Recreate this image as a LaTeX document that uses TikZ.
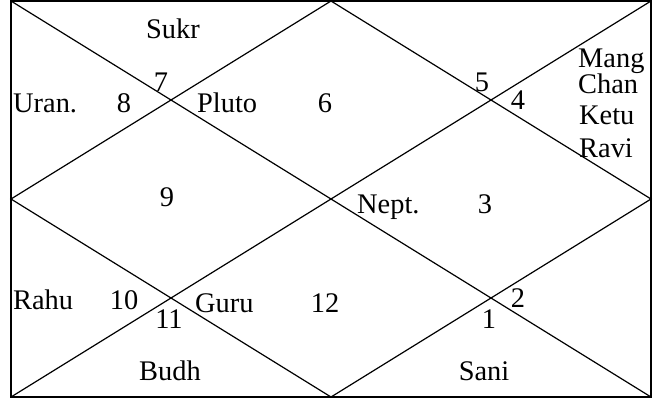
\documentclass[tikz,border=0pt]{standalone}
\usepackage{fontspec}
\setmainfont{Liberation Serif}
\begin{document}
\begin{tikzpicture}[x=1bp,y=-1bp,
  chartline/.style={line width=1.2bp, black},
  lbl/.style={font=\fontsize{28.5}{31}\selectfont, inner sep=0pt, anchor=base},
  lbll/.style={lbl, anchor=base west}]
\useasboundingbox (0,0) rectangle (658,399);
\coordinate (tl) at (11,1);
\coordinate (tr) at (651,1);
\coordinate (br) at (651,397);
\coordinate (bl) at (11,397);
\coordinate (mt) at (331,1);
\coordinate (mr) at (651,199);
\coordinate (mb) at (331,397);
\coordinate (ml) at (11,199);
\draw[chartline] (tl) -- (tr) -- (br) -- (bl) -- cycle;
\draw[chartline] (tl) -- (br);
\draw[chartline] (tr) -- (bl);
\draw[chartline] (mt) -- (mr) -- (mb) -- (ml) -- cycle;
% labels
\node[lbl] (sukr) at (173,38) {Sukr};
\node[lbl] (h7) at (161,91) {7};
\node[lbll] (uran) at (13,112) {Uran.};
\node[lbl] (h8) at (124,112) {8};
\node[lbll] (pluto) at (197,112) {Pluto};
\node[lbl] (h6) at (325,112) {6};
\node[lbl] (h5) at (482,91) {5};
\node[lbl] (h4) at (518,109) {4};
\node[lbll] (mang) at (578,67) {Mang};
\node[lbll] (chan) at (578,93) {Chan};
\node[lbll] (ketu) at (579,124) {Ketu};
\node[lbll] (ravi) at (579,157) {Ravi};
\node[lbl] (h9) at (167,206) {9};
\node[lbll] (nept) at (357,213) {Nept.};
\node[lbl] (h3) at (485,213) {3};
\node[lbll] (rahu) at (13,309) {Rahu};
\node[lbl] (h10) at (124,309) {10};
\node[lbl] (h11) at (169,328) {11};
\node[lbll] (guru) at (195,312) {Guru};
\node[lbl] (h12) at (325,312) {12};
\node[lbl] (h2) at (518,307) {2};
\node[lbl] (h1) at (489,328) {1};
\node[lbl] (budh) at (170,380) {Budh};
\node[lbl] (sani) at (484,380) {Sani};
\end{tikzpicture}
\end{document}
